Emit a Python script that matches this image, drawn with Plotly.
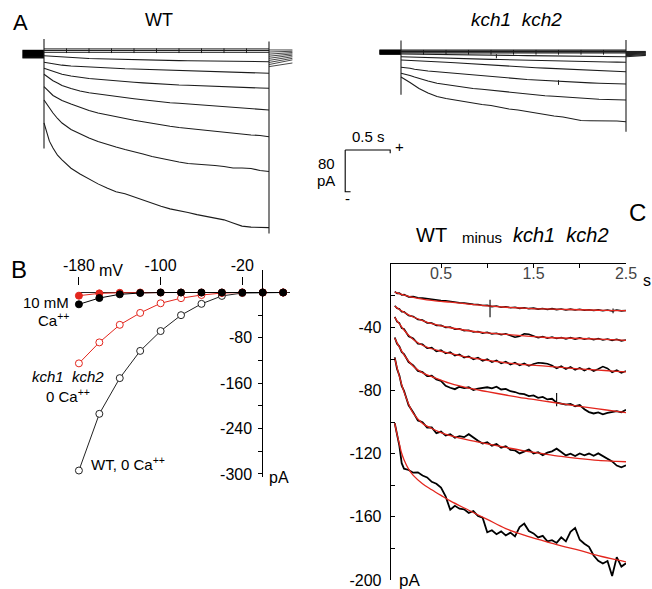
import plotly.graph_objects as go

W, H = 652, 589
FONT = "Liberation Sans, Arial, sans-serif"
RED = "#e3261d"

# ---------------- Panel A : current traces (t in s, I in pA) ----------------
TA = [0, 0.03, 0.06, 0.1, 0.15, 0.2, 0.3, 0.4, 0.5, 0.6, 0.7, 0.8, 0.9, 1.0, 1.1, 1.2,
      1.3, 1.4, 1.5, 1.6, 1.7, 1.8, 1.9, 2.0, 2.1, 2.2, 2.3, 2.4, 2.5]

WT_2 = [-9.0, -9.4, -9.8, -10.4, -11.1, -11.7, -12.9, -13.8, -14.4, -15.0, -15.5, -16.1, -16.7, -17.3, -17.5,
        -17.7, -17.8, -18.2, -18.4, -18.6, -18.8, -19.0, -19.2, -19.4, -19.6, -19.8, -20.0, -20.2, -20.5]
WT_3 = [-21.7, -22.6, -23.6, -24.6, -25.9, -27.2, -28.8, -29.9, -30.9, -32.0, -32.6, -33.4, -34.2, -34.5, -35.1,
        -35.7, -36.3, -36.7, -37.2, -37.8, -38.4, -39.0, -39.5, -40.1, -40.7, -41.3, -41.8, -42.4, -42.8]
WT_4 = [-33.2, -35.1, -37.0, -39.3, -42.2, -44.5, -48.0, -50.9, -52.8, -54.3, -56.0, -57.6, -58.9, -60.1, -61.2,
        -62.4, -63.7, -64.7, -65.2, -65.8, -66.6, -67.4, -68.3, -68.9, -69.3, -69.9, -70.4, -71.0, -71.6]
WT_5 = [-44.7, -48.9, -52.8, -57.0, -61.4, -66.2, -72.0, -76.8, -80.0, -82.5, -85.4, -87.7, -89.8, -91.5, -93.5,
        -95.6, -97.9, -99.4, -100.4, -101.7, -103.0, -104.2, -105.5, -106.7, -107.8, -109.0, -110.0, -111.7, -113.2]
WT_6 = [-68.5, -73.9, -79.6, -85.4, -90.2, -95.0, -101.7, -108.4, -114.2, -119.0, -122.8, -126.3, -130.1, -132.9,
        -135.9, -139.1, -142.0, -144.5, -146.8, -148.7, -150.6, -152.6, -154.5, -156.4, -158.3, -160.2, -161.2,
        -162.2, -164.5]
WT_7 = [-94.0, -101.7, -110.3, -119.0, -129.5, -138.2, -150.6, -159.3, -167.0, -173.7, -179.4, -184.2, -189.0,
        -192.8, -197.7, -202.4, -206.3, -209.2, -213.0, -215.9, -216.8, -217.8, -219.7, -221.6, -224.5, -224.5,
        -225.5, -229.3, -231.2]
WT_8 = [-138, -157, -173, -186, -200, -209, -225, -236, -246, -255, -263, -270, -274, -280, -286, -293, -298,
        -303, -306, -310, -314, -317, -321, -324, -330, -336, -338, -339, -339]

KCH_2 = [-5.8, -5.9, -6.0, -6.1, -6.2, -6.4, -6.6, -6.8, -7.0, -7.2, -7.4, -7.6, -7.8, -8.0, -8.2, -8.4, -8.6,
         -8.8, -9.0, -9.2, -9.4, -9.6, -9.8, -10.0, -10.2, -10.4, -10.6, -10.8, -10.9]
KCH_3 = [-10.9, -11.1, -11.3, -11.5, -11.8, -12.1, -12.6, -13.0, -13.5, -14.0, -14.5, -15.0, -15.5, -16.0, -16.4,
         -16.9, -17.3, -17.8, -18.2, -18.6, -18.9, -19.3, -19.6, -20.0, -20.3, -20.7, -21.0, -21.4, -21.7]
KCH_4 = [-17.3, -17.5, -17.7, -18.0, -18.4, -19.0, -19.8, -20.5, -21.5, -22.6, -23.8, -24.9, -26.1, -27.1, -28.2,
         -29.2, -30.1, -31.1, -32.0, -32.8, -33.6, -34.3, -35.1, -35.9, -36.7, -37.4, -38.2, -39.0, -39.7]
KCH_5 = [-31.3, -31.7, -32.2, -33.2, -34.9, -36.5, -38.4, -39.7, -41.3, -42.8, -44.7, -46.4, -48.0, -49.5, -51.3,
         -52.8, -53.7, -54.7, -55.7, -56.8, -58.0, -59.1, -60.1, -60.6, -61.2, -61.8, -62.4, -62.8, -63.3]
KCH_6 = [-42.8, -43.8, -45.1, -47.0, -49.9, -52.8, -57.6, -62.0, -64.7, -67.2, -70.0, -72.0, -73.5, -75.4, -77.3,
         -79.1, -80.6, -82.5, -84.4, -85.8, -86.9, -88.3, -89.6, -90.6, -91.5, -92.5, -93.1, -93.6, -94.0]
KCH_7 = [-49.9, -52.8, -55.7, -60.4, -66.2, -72.0, -80.6, -87.3, -91.2, -94.0, -97.9, -100.7, -102.7, -104.6,
         -108.4, -111.3, -113.2, -116.1, -119.9, -122.8, -124.7, -126.7, -129.5, -133.4, -133.8, -133.8, -134.3,
         -134.3, -135.7]

PULSE_END = 2.5
RAIL_WT = [4.0, 1.0, -2.5]            # traces lying on the holding level
RAIL_KCH = [1.5, -1.0, -3.5]
RAIL_TICK_T = [0.25, 0.5, 0.75, 1.0, 1.25, 1.5, 1.75, 2.0, 2.25]
RAIL_TICK_WT = [5.0, -4.0]
RAIL_TICK_KCH = [2.0, -7.0]
HOLD_DUR = 0.24
HOLD_WT = [1, -1, -3, -5, -7, -9, -11, -13]
HOLD_KCH = [1.5, 0, -1.5, -3, -4.5, -6]
TAIL_DUR_WT = 0.26
TAIL_WT_START = [2, -2, -6, -10, -14, -18, -22, -26, -30]
TAIL_WT_END = [2, -0.5, -3, -5.5, -8, -11, -14, -17, -23]
TAIL_DUR_KCH = 0.22
TAIL_KCH_START = [-1, -3, -5, -7, -9, -11]
TAIL_KCH_END = [-1, -2.5, -4, -5.5, -7, -8.5]
WT_ON_TRANSIENT = [23, -187]
WT_OFF_TRANSIENT = [18, -350]
KCH_ON_TRANSIENT = [20, -84]
KCH_OFF_TRANSIENT = [21, -155]
KCH_SPIKE_T = [1.06, 1.75]
KCH_SPIKE_TOP = [-6, -56]
KCH_SPIKE_BOT = [-14, -65]
SCALE_T = 0.5    # s
SCALE_I = 80     # pA

# ---------------- Panel B : I-V ----------------
VM = [-180, -160, -140, -120, -100, -80, -60, -40, -20, 0, 20]
WT_0CA = [-314, -214, -151, -103, -68, -40, -20, -6, -1, 0, 0]
KCH_0CA = [-125, -88, -57, -36, -19, -10, -4.4, -1, 0, 0, 0]
KCH_10CA = [-5.6, -1.5, -0.5, 0, 0, 0, 0, 0, 0, 0, 0]
WT_10CA = [-20.8, -9.7, -3.2, -0.9, 0, 0, 0, 0, 0, 0, 0]
B_XTICKS = [-180, -100, -20]
B_YTICKS = [-80, -160, -240, -320]
B_YTEXT = ["-80", "-160", "-240", "-300"]
B_YMINOR = [40, 0, -40, -120, -200, -280]

# ---------------- Panel C : WT minus kch1 kch2 ----------------
TC = [0, 0.025, 0.05, 0.075, 0.1, 0.15, 0.2, 0.25, 0.3, 0.35, 0.4, 0.45, 0.5, 0.55, 0.6, 0.65, 0.7, 0.75,
      0.8, 0.85, 0.9, 0.95, 1.0, 1.05, 1.1, 1.15, 1.2, 1.25, 1.3, 1.35, 1.4, 1.45, 1.5, 1.55, 1.6, 1.65, 1.7,
      1.75, 1.8, 1.85, 1.9, 1.95, 2.0, 2.05, 2.1, 2.15, 2.2, 2.25, 2.3, 2.35, 2.4, 2.45, 2.5]
C_TRACE_1 = [-17.3, -18.4, -18.3, -19.4, -19.2, -20.6, -20.5, -21.2, -21.4, -21.9, -22.3, -22.6, -23.0, -23.1,
             -23.6, -23.9, -24.4, -24.5, -25.0, -25.4, -25.5, -26.1, -26.0, -26.8, -26.4, -27.2, -26.9, -27.5,
             -27.2, -27.9, -27.5, -28.1, -27.8, -28.4, -28.0, -28.6, -28.1, -28.7, -28.3, -28.9, -28.4, -28.9,
             -28.5, -29.1, -28.8, -29.3, -28.9, -29.4, -29.0, -29.6, -29.0, -29.5, -29.3]
C_TRACE_2 = [-26.2, -27.9, -28.3, -30.0, -30.1, -32.5, -33.0, -35.0, -35.3, -37.1, -37.2, -38.8, -38.6, -40.0,
             -39.8, -41.1, -40.9, -42.0, -41.8, -42.9, -42.6, -43.6, -43.1, -44.1, -43.7, -44.6, -44.0, -45.0,
             -46.2, -45.6, -44.1, -44.3, -45.5, -46.5, -45.8, -46.8, -46.1, -47.0, -46.4, -47.3, -46.5, -47.4,
             -46.6, -47.5, -46.9, -47.8, -47.0, -47.9, -47.3, -48.2, -47.5, -48.5, -47.9]
C_TRACE_3 = [-33.3, -36.4, -37.2, -40.5, -41.0, -45.6, -47.0, -50.3, -50.7, -53.2, -52.8, -55.1, -54.4, -56.5,
             -55.6, -57.9, -57.0, -59.1, -58.3, -60.2, -59.2, -61.1, -60.1, -62.0, -60.9, -62.8, -61.7, -63.5,
             -62.3, -64.0, -62.8, -64.4, -63.2, -62.4, -62.6, -63.0, -64.1, -65.9, -64.6, -66.4, -65.0, -66.9,
             -65.6, -67.3, -65.9, -67.6, -66.3, -64.8, -66.0, -68.4, -67.1, -68.8, -67.6]
C_TRACE_4 = [-46.4, -50.3, -52.0, -55.6, -56.9, -61.9, -64.0, -67.5, -68.3, -70.8, -70.6, -72.9, -73.9, -77.0,
             -78.2, -79.1, -77.6, -78.4, -77.9, -79.6, -78.8, -78.5, -77.9, -78.6, -77.5, -79.3, -78.9, -80.4,
             -80.9, -82.0, -82.3, -83.5, -83.1, -84.6, -84.0, -85.6, -85.2, -87.6, -88.1, -88.9, -88.5, -89.9,
             -89.2, -91.8, -93.6, -94.5, -93.8, -95.0, -94.2, -93.5, -93.0, -93.8, -92.1]
C_TRACE_5 = [-59.0, -66.3, -70.4, -77.0, -80.1, -89.3, -93.8, -98.9, -100.0, -103.4, -103.4, -107.0, -106.0,
             -108.5, -107.6, -109.9, -108.9, -109.5, -107.6, -110.0, -111.8, -113.6, -112.8, -114.9, -113.9,
             -116.2, -115.2, -117.5, -117.9, -119.8, -118.8, -117.4, -119.8, -119.0, -120.9, -119.3, -118.5,
             -116.8, -118.9, -121.1, -120.0, -121.5, -119.8, -121.0, -119.9, -121.3, -119.8, -121.6, -123.0,
             -124.9, -127.5, -128.6, -127.4]
C_TRACE_6 = [-100.7, -107.5, -115.0, -126.0, -129.5, -130.3, -132.0, -131.8, -133.8, -135.0, -137.8, -139.0,
             -141.5, -147.0, -155.5, -153.0, -154.8, -155.2, -157.5, -156.3, -159.5, -160.5, -169.8, -168.5,
             -171.0, -169.2, -171.8, -170.0, -172.4, -166.5, -164.3, -169.0, -170.5, -173.0, -172.0, -175.5,
             -174.8, -176.5, -173.0, -175.5, -169.5, -167.0, -174.5, -177.0, -179.0, -184.5, -187.8, -189.5,
             -188.0, -197.5, -185.5, -191.5, -189.4]

TF = [0, 0.025, 0.05, 0.075, 0.1, 0.15, 0.2, 0.3, 0.4, 0.5, 0.6, 0.8, 1.0, 1.2, 1.4, 1.6, 1.8, 2.0, 2.2, 2.4, 2.5]
C_FIT_1 = [-17.6, -18.1, -18.6, -19.1, -19.6, -20.3, -21.0, -22.1, -22.9, -23.5, -24.0, -25.2, -26.3, -27.2,
           -27.8, -28.3, -28.5, -28.8, -29.1, -29.3, -29.4]
C_FIT_2 = [-26.6, -27.6, -28.6, -29.5, -30.4, -32.0, -33.4, -35.7, -37.6, -39.0, -40.2, -42.1, -43.5, -44.4,
           -45.3, -46.2, -46.7, -47.0, -47.4, -47.9, -48.2]
C_FIT_3 = [-33.6, -35.8, -37.8, -39.7, -41.6, -44.9, -47.6, -51.3, -53.5, -55.1, -56.4, -59.0, -60.8, -62.4,
           -63.5, -64.4, -65.3, -66.3, -67.0, -67.8, -68.2]
C_FIT_4 = [-46.7, -49.8, -52.5, -55.0, -57.4, -61.3, -64.6, -68.8, -71.2, -73.4, -75.5, -78.5, -80.7, -82.8,
           -84.8, -86.5, -88.3, -90.0, -91.6, -93.2, -94.0]
C_FIT_5 = [-59.4, -65.5, -71.0, -76.2, -80.8, -88.5, -94.5, -100.8, -104.0, -106.6, -108.5, -111.4, -113.7,
           -116.0, -118.2, -120.0, -121.7, -123.1, -124.2, -124.8, -125.1]
C_FIT_6 = [-100.7, -107.8, -113.8, -119.7, -123.8, -129.8, -133.7, -139.0, -142.8, -146.4, -149.9, -155.8,
           -161.6, -167.4, -171.6, -175.1, -178.4, -181.3, -184.6, -187.3, -188.5]
C_SPIKE_T = [1.03, 2.36, 1.75]
C_SPIKE_TOP = [-22.4, -28.0, -81.5]
C_SPIKE_BOT = [-33.6, -31.0, -90.0]
C_XTICKS = [0.5, 1.5, 2.5]
C_XMINOR = [1.0, 2.0]
C_YTICKS = [-200, -160, -120, -80, -40]
C_YMINOR = [-180, -140, -100, -60, -20]

for arr in (C_TRACE_1, C_TRACE_2, C_TRACE_3, C_TRACE_4, C_TRACE_5, C_TRACE_6):
    assert len(arr) == len(TC)
for arr in (WT_2, WT_3, WT_4, WT_5, WT_6, WT_7, WT_8, KCH_2, KCH_3, KCH_4, KCH_5, KCH_6, KCH_7):
    assert len(arr) == len(TA)


def px_x(p):
    return p / W


def px_y(p):
    return 1 - p / H


fig = go.Figure()


def line(x, y, ax, color="black", width=1.0, shape="linear"):
    fig.add_trace(go.Scatter(x=x, y=y, mode="lines", xaxis=ax[0], yaxis=ax[1],
                             line=dict(color=color, width=width, shape=shape),
                             showlegend=False, hoverinfo="skip"))


def segs(xs0, xs1, ys0, ys1):
    X, Y = [], []
    for a, b, c, d in zip(xs0, xs1, ys0, ys1):
        X += [a, b, None]
        Y += [c, d, None]
    return X, Y


TRACE_COLOR = "#1c1c1c"

# ---- A: WT ----
AWT = ("x", "y")
for lvl in RAIL_WT:
    line([0, PULSE_END], [lvl, lvl], AWT, TRACE_COLOR, 1.0)
X, Y = segs(RAIL_TICK_T, RAIL_TICK_T, [RAIL_TICK_WT[0]] * 9, [RAIL_TICK_WT[1]] * 9)
line(X, Y, AWT, TRACE_COLOR, 1.0)
for arr in (WT_2, WT_3, WT_4, WT_5, WT_6, WT_7, WT_8):
    line(TA, arr, AWT, TRACE_COLOR, 1.1)
X, Y = segs([-HOLD_DUR] * len(HOLD_WT), [0] * len(HOLD_WT), HOLD_WT, HOLD_WT)
line(X, Y, AWT, "black", 1.4)
n = len(TAIL_WT_START)
X, Y = segs([PULSE_END] * n, [PULSE_END + TAIL_DUR_WT] * n, TAIL_WT_START, TAIL_WT_END)
line(X, Y, AWT, "#333333", 0.9)
X, Y = segs([0, PULSE_END], [0, PULSE_END], [WT_ON_TRANSIENT[0], WT_OFF_TRANSIENT[0]],
            [WT_ON_TRANSIENT[1], WT_OFF_TRANSIENT[1]])
line(X, Y, AWT, TRACE_COLOR, 1.1)

# ---- A: kch1 kch2 ----
AK = ("x2", "y2")
for lvl in RAIL_KCH:
    line([0, PULSE_END], [lvl, lvl], AK, TRACE_COLOR, 1.3)
X, Y = segs(RAIL_TICK_T, RAIL_TICK_T, [RAIL_TICK_KCH[0]] * 9, [RAIL_TICK_KCH[1]] * 9)
line(X, Y, AK, TRACE_COLOR, 1.0)
for arr in (KCH_2, KCH_3, KCH_4, KCH_5, KCH_6, KCH_7):
    line(TA, arr, AK, TRACE_COLOR, 1.1)
X, Y = segs(KCH_SPIKE_T, KCH_SPIKE_T, KCH_SPIKE_TOP, KCH_SPIKE_BOT)
line(X, Y, AK, TRACE_COLOR, 1.0)
X, Y = segs([-HOLD_DUR] * len(HOLD_KCH), [0] * len(HOLD_KCH), HOLD_KCH, HOLD_KCH)
line(X, Y, AK, "black", 1.5)
n = len(TAIL_KCH_START)
X, Y = segs([PULSE_END] * n, [PULSE_END + TAIL_DUR_KCH] * n, TAIL_KCH_START, TAIL_KCH_END)
line(X, Y, AK, "#222222", 1.2)
X, Y = segs([0, PULSE_END], [0, PULSE_END], [KCH_ON_TRANSIENT[0], KCH_OFF_TRANSIENT[0]],
            [KCH_ON_TRANSIENT[1], KCH_OFF_TRANSIENT[1]])
line(X, Y, AK, TRACE_COLOR, 1.1)

# scale bar (in the kch axes' units)
SB_T0, SB_I0 = -0.62, -190
line([SB_T0, SB_T0 + SCALE_T, SB_T0 + SCALE_T], [SB_I0, SB_I0, SB_I0 - 6], AK, "black", 1.1)
line([SB_T0, SB_T0, SB_T0 + 0.06], [SB_I0, SB_I0 - SCALE_I, SB_I0 - SCALE_I], AK, "black", 1.1)

# ---- B: I-V ----


def iv(y, color, filled):
    fig.add_trace(go.Scatter(
        x=VM, y=y, mode="lines+markers", xaxis="x3", yaxis="y3", cliponaxis=False,
        line=dict(color=color, width=1),
        marker=dict(size=7, symbol="circle", color=color if filled else "white",
                    line=dict(color=color, width=1)),
        showlegend=False, hoverinfo="skip"))


iv(WT_0CA, "#222222", False)
iv(KCH_0CA, RED, False)
iv(KCH_10CA, RED, True)
iv(WT_10CA, "black", True)

# ---- C ----
AC = ("x4", "y4")
for arr in (C_TRACE_1, C_TRACE_2, C_TRACE_3):
    line(TC, arr, AC, "black", 1.6)
for arr in (C_TRACE_4, C_TRACE_5, C_TRACE_6):
    line(TC, arr, AC, "black", 1.8)
X, Y = segs(C_SPIKE_T, C_SPIKE_T, C_SPIKE_TOP, C_SPIKE_BOT)
line(X, Y, AC, "black", 1.1)
for arr in (C_FIT_1, C_FIT_2, C_FIT_3, C_FIT_4, C_FIT_5, C_FIT_6):
    line(TF, arr, AC, RED, 1.3, "spline")

# ---------------- layout ----------------
hidden = dict(visible=False, showgrid=False, zeroline=False, automargin=False)
A_YDOM = [px_y(240), px_y(30)]
A_IRANGE = [(51 - 240) * 1.919, (51 - 30) * 1.919]

layout = dict(
    width=W, height=H, margin=dict(l=0, r=0, t=0, b=0, autoexpand=False),
    paper_bgcolor="white", plot_bgcolor="rgba(0,0,0,0)",
    font=dict(family=FONT, color="black", size=16),
    showlegend=False,
    xaxis=dict(hidden, domain=[0, px_x(330)], range=[-44 / 90, (330 - 44) / 90], anchor="y"),
    yaxis=dict(hidden, domain=A_YDOM, range=A_IRANGE, anchor="x"),
    xaxis2=dict(hidden, domain=[px_x(335), 1], range=[(335 - 401) / 90, (652 - 401) / 90], anchor="y2"),
    yaxis2=dict(hidden, domain=A_YDOM, range=A_IRANGE, anchor="x2"),
    xaxis3=dict(domain=[px_x(78.5), px_x(290)], range=[-180.4, 26.7], anchor="free",
                position=px_y(285), side="top", showline=False, showgrid=False, zeroline=False,
                ticks="outside", ticklen=8, tickcolor="black", tickwidth=1, automargin=False,
                tickvals=B_XTICKS, ticktext=[str(v) for v in B_XTICKS], tickfont=dict(size=16)),
    yaxis3=dict(domain=[px_y(476.7), px_y(270)], range=[-324.9, 39.7], anchor="free",
                position=px_x(262.3), side="left", showline=True, linecolor="black", linewidth=1,
                ticks="outside", ticklen=4, tickcolor="black", tickwidth=1, automargin=False,
                tickvals=B_YTICKS, ticktext=B_YTEXT, tickfont=dict(size=16),
                minor=dict(tickvals=B_YMINOR, ticks="outside", ticklen=4, tickcolor="black", showgrid=False),
                showgrid=False, zeroline=True, zerolinecolor="#222222", zerolinewidth=1.2,
                ticklabelstandoff=3),
    xaxis4=dict(domain=[px_x(390.7), px_x(626)], range=[-0.0438, 2.5], anchor="y4", side="top",
                showline=True, linecolor="black", linewidth=1, ticks="inside", ticklen=4,
                tickcolor="black", tickvals=C_XTICKS, ticktext=[str(v) for v in C_XTICKS],
                minor=dict(tickvals=C_XMINOR, ticks="inside", ticklen=4, tickcolor="black", showgrid=False),
                automargin=False,
                ticklabelposition="inside", ticklabeloverflow="allow", tickfont=dict(size=16),
                showgrid=False, zeroline=False),
    yaxis4=dict(domain=[px_y(580), px_y(264.3)], range=[-200, 0], anchor="x4", showline=True,
                linecolor="black", linewidth=1, ticks="inside", ticklen=4, tickcolor="black",
                tickvals=C_YTICKS, ticktext=[str(v) for v in C_YTICKS], tickfont=dict(size=16),
                minor=dict(tickvals=C_YMINOR, ticks="inside", ticklen=4, tickcolor="black", showgrid=False),
                automargin=False, showgrid=False, zeroline=False, ticklabelstandoff=5),
)
fig.update_layout(**layout)


def ann(text, x, y, size, xanchor="center"):
    fig.add_annotation(text=text, x=px_x(x), y=px_y(y), xref="paper", yref="paper",
                       xanchor=xanchor, yanchor="middle", showarrow=False,
                       font=dict(family=FONT, size=size, color="black"))


ann("A", 20, 22, 22)
ann("WT", 159, 20, 18)
ann("<i>kch1  kch2</i>", 516, 20, 19)
ann("0.5 s", 369, 137, 15)
ann("+", 399, 146, 15)
ann("80", 337, 164, 15, "right")
ann("pA", 337, 180, 15, "right")
ann("-", 347, 199, 15)
ann("B", 19, 269, 24)
ann("mV", 97, 270, 16, "left")
ann("10 mM", 71, 302, 15, "right")
ann("Ca<sup>++</sup>", 71, 319, 15, "right")
ann("<i>kch1  kch2</i>", 68, 376, 15)
ann("0 Ca<sup>++</sup>", 68, 395, 15)
ann("WT, 0 Ca<sup>++</sup>", 89, 463, 15, "left")
ann("pA", 267, 477, 16, "left")
ann("C", 637, 213, 24)
ann("WT", 432, 235, 20)
ann("minus", 482, 237, 15)
ann("<i>kch1  kch2</i>", 561, 235, 20)
ann("s", 641, 280, 16, "left")
ann("pA", 397, 580, 17, "left")

fig.write_html("out.html", config={"displayModeBar": False},
               post_script="document.body.style.margin='0';document.body.style.overflow='hidden';")
